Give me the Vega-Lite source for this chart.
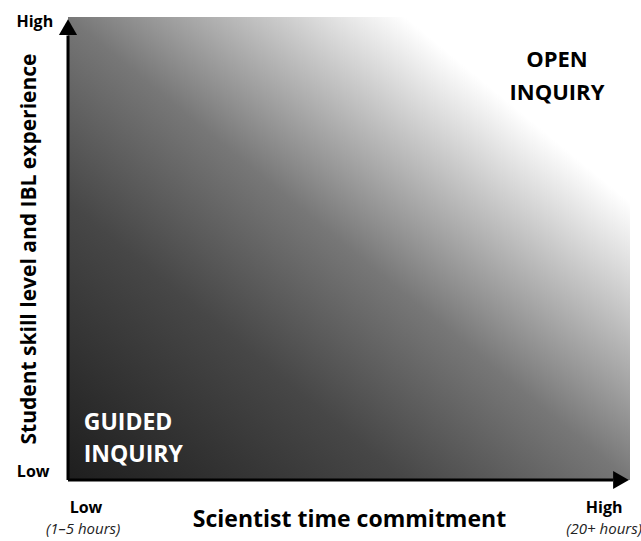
{
  "$schema": "https://vega.github.io/schema/vega-lite/v6.json",
  "width": 562,
  "height": 463,
  "autosize": "none",
  "padding": {"left": 68, "top": 17, "right": 11, "bottom": 61},
  "background": "white",
  "config": {"view": {"stroke": null}, "font": "Open Sans"},
  "layer": [
    {
      "data": {"values": [{"x0": 0, "x1": 1, "y0": 0, "y1": 1}]},
      "mark": {
        "type": "rect",
        "color": {
          "gradient": "linear",
          "x1": 0, "y1": 1, "x2": 1, "y2": 0,
          "stops": [
            {"offset": 0, "color": "#1e1e1e"},
            {"offset": 0.3, "color": "#474747"},
            {"offset": 0.5, "color": "#777777"},
            {"offset": 0.68, "color": "#c8c8c8"},
            {"offset": 0.8, "color": "#ffffff"},
            {"offset": 1, "color": "#ffffff"}
          ]
        }
      },
      "encoding": {
        "x": {"field": "x0", "type": "quantitative", "scale": {"domain": [0, 1]},
              "axis": {"title": "Scientist time commitment", "domain": false, "ticks": false, "labels": false, "grid": false,
                       "titleFontSize": 23, "titleFontWeight": "bold", "titleColor": "#000", "titlePadding": 28, "titleFont": "Open Sans"}},
        "x2": {"field": "x1"},
        "y": {"field": "y0", "type": "quantitative", "scale": {"domain": [0, 1]},
              "axis": {"title": "Student skill level and IBL experience", "domain": false, "ticks": false, "labels": false, "grid": false,
                       "titleFontSize": 21, "titleFontWeight": "bold", "titleColor": "#000", "titlePadding": 29, "titleFont": "Open Sans"}},
        "y2": {"field": "y1"}
      }
    },
    {
      "data": {"values": [{"a": 0, "b": 0, "a2": 0, "b2": 0.96}, {"a": 0, "b": 0, "a2": 0.97, "b2": 0}]},
      "mark": {"type": "rule", "color": "#000", "strokeWidth": 3},
      "encoding": {
        "x": {"field": "a", "type": "quantitative"},
        "y": {"field": "b", "type": "quantitative"},
        "x2": {"field": "a2"},
        "y2": {"field": "b2"}
      }
    },
    {
      "data": {"values": [{"a": 0, "b": 0.978}]},
      "mark": {"type": "point", "shape": "triangle-up", "filled": true, "color": "#000", "size": 330, "opacity": 1},
      "encoding": {
        "x": {"field": "a", "type": "quantitative"},
        "y": {"field": "b", "type": "quantitative"}
      }
    },
    {
      "data": {"values": [{"a": 0.984, "b": 0}]},
      "mark": {"type": "point", "shape": "triangle-right", "filled": true, "color": "#000", "size": 330, "opacity": 1},
      "encoding": {
        "x": {"field": "a", "type": "quantitative"},
        "y": {"field": "b", "type": "quantitative"}
      }
    },
    {
      "data": {"values": [
        {"label": "High", "a": -0.059, "b": 0.989},
        {"label": "Low", "a": -0.062, "b": 0.017},
        {"label": "Low", "a": 0.032, "b": -0.060},
        {"label": "High", "a": 0.954, "b": -0.060}
      ]},
      "mark": {"type": "text", "font": "Open Sans", "fontWeight": "bold", "fontSize": 16, "color": "#000", "align": "center", "baseline": "middle"},
      "encoding": {
        "x": {"field": "a", "type": "quantitative"},
        "y": {"field": "b", "type": "quantitative"},
        "text": {"field": "label"}
      }
    },
    {
      "data": {"values": [
        {"label": "(1–5 hours)", "a": 0.027, "b": -0.106},
        {"label": "(20+ hours)", "a": 0.954, "b": -0.106}
      ]},
      "mark": {"type": "text", "font": "Open Sans", "fontStyle": "italic", "fontSize": 15, "color": "#222", "align": "center", "baseline": "middle"},
      "encoding": {
        "x": {"field": "a", "type": "quantitative"},
        "y": {"field": "b", "type": "quantitative"},
        "text": {"field": "label"}
      }
    },
    {
      "data": {"values": [
        {"label": "OPEN", "a": 0.870, "b": 0.907},
        {"label": "INQUIRY", "a": 0.870, "b": 0.836}
      ]},
      "mark": {"type": "text", "font": "Open Sans", "fontWeight": "bold", "fontSize": 22, "color": "#000", "align": "center", "baseline": "middle"},
      "encoding": {
        "x": {"field": "a", "type": "quantitative"},
        "y": {"field": "b", "type": "quantitative"},
        "text": {"field": "label"}
      }
    },
    {
      "data": {"values": [
        {"label": "GUIDED", "a": 0.028, "b": 0.123},
        {"label": "INQUIRY", "a": 0.028, "b": 0.054}
      ]},
      "mark": {"type": "text", "font": "Open Sans", "fontWeight": "bold", "fontSize": 23, "color": "#fff", "align": "left", "baseline": "middle"},
      "encoding": {
        "x": {"field": "a", "type": "quantitative"},
        "y": {"field": "b", "type": "quantitative"},
        "text": {"field": "label"}
      }
    }
  ]
}
